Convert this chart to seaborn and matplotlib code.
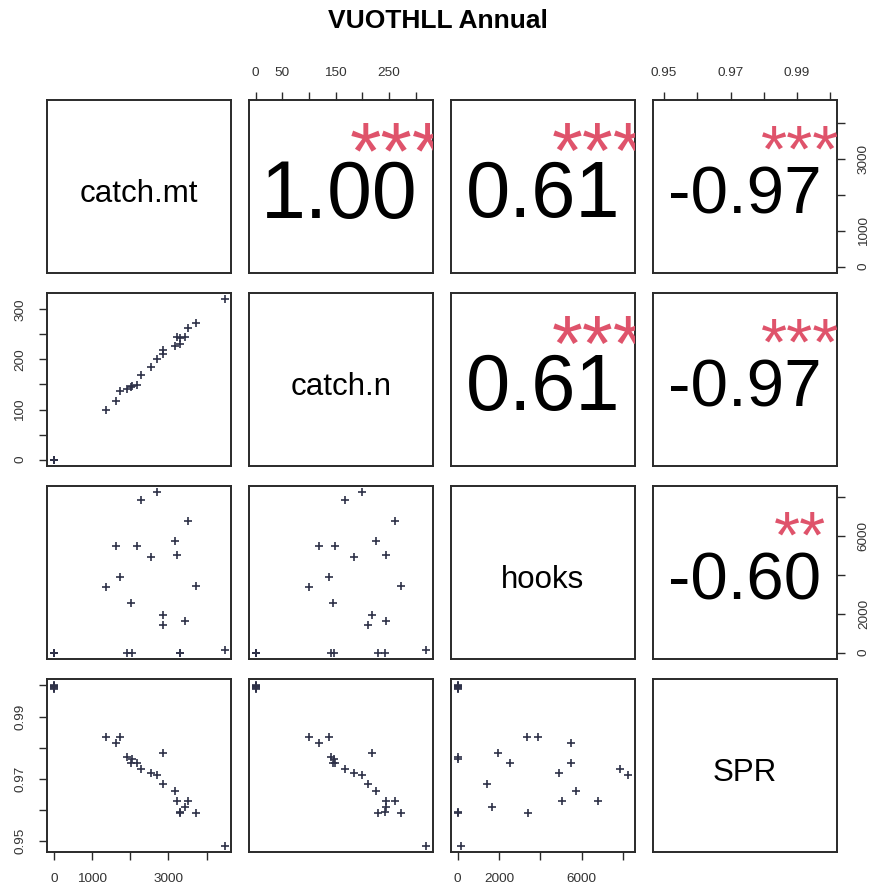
import numpy as np
import pandas as pd
import matplotlib
matplotlib.use("Agg")
import matplotlib.pyplot as plt
import matplotlib.transforms as mtransforms
from matplotlib.textpath import TextPath
from matplotlib.font_manager import FontProperties
import seaborn as sns

sns.set_style("white")
plt.rcParams["font.family"] = ["Liberation Sans", "DejaVu Sans"]

title = "VUOTHLL Annual"
variables = ["catch.mt", "catch.n", "hooks", "SPR"]

catch_mt = [2693, 2276, 3502, 3174, 1636, 2169, 2551, 3227, 1742, 1369,
            3716, 2009, 2871, 3440, 2871, 1929, 2053, 3298, 3298, 4470,
            0, 0, 0, 0, 0, 0]
catch_n = [200, 168, 262, 226, 118, 148, 185, 245, 138, 99,
           272, 145, 218, 245, 210, 142, 147, 242, 230, 320,
           0, 0, 0, 0, 0, 0]
hooks = [8250, 7860, 6790, 5730, 5490, 5490, 4910, 5035, 3900, 3368,
         3408, 2535, 1960, 1650, 1399, 0, 0, 0, 0, 155,
         0, 0, 0, 0, 0, 0]
spr = [0.9711, 0.9733, 0.9630, 0.9662, 0.9814, 0.9751, 0.9719, 0.9630, 0.9833, 0.9833,
       0.9590, 0.9751, 0.9783, 0.9611, 0.9685, 0.9770, 0.9765, 0.9595, 0.9590, 0.9486,
       1.0000, 0.9995, 0.9990, 0.9993, 0.9997, 0.9999]

cor_text = {(0, 1): "1.00", (0, 2): "0.61", (0, 3): "-0.97",
            (1, 2): "0.61", (1, 3): "-0.97", (2, 3): "-0.60"}
cor_stars = {(0, 1): "***", (0, 2): "***", (0, 3): "***",
             (1, 2): "***", (1, 3): "***", (2, 3): "**"}

axis_ticks = {
    "catch.mt": [0, 1000, 2000, 3000, 4000],
    "catch.n": [0, 50, 100, 150, 200, 250, 300],
    "hooks": [0, 2000, 4000, 6000, 8000],
    "SPR": [0.95, 0.96, 0.97, 0.98, 0.99, 1.00],
}
x_tick_labels = {
    "catch.mt": ["0", "1000", "", "3000", ""],
    "catch.n": ["0", "50", "", "150", "", "250", ""],
    "hooks": ["0", "2000", "", "6000", ""],
    "SPR": ["0.95", "", "0.97", "", "0.99", ""],
}
y_tick_labels = {
    "catch.mt": ["0", "1000", "", "3000", ""],
    "catch.n": ["0", "", "100", "", "200", "", "300"],
    "hooks": ["0", "2000", "", "6000", ""],
    "SPR": ["0.95", "", "0.97", "", "0.99", ""],
}

df = pd.DataFrame({"catch.mt": catch_mt, "catch.n": catch_n,
                   "hooks": hooks, "SPR": spr})

W, H = 875, 892
DPI = 100
fig, axes = plt.subplots(4, 4, figsize=(W / DPI, H / DPI), dpi=DPI)
fig.subplots_adjust(left=47 / W, right=837 / W, top=1 - 100 / H,
                    bottom=1 - 852 / H, wspace=0.095, hspace=0.116)

frame_col = "#2a2a2a"
tick_col = "#333333"
pt_col = "#2e3148"
fprop = FontProperties(family="Liberation Sans")


def lims(v):
    v = np.asarray(v, float)
    r = v.max() - v.min()
    return v.min() - 0.04 * r, v.max() + 0.04 * r


def ink(s, fs):
    ext = TextPath((0, 0), s, size=fs, prop=fprop).get_extents()
    return ext.x0, ext.x1, ext.y0, ext.y1


def place_ink(ax, s, fs, fx, fy_px_from_top, color, clip=False):
    x0, x1, y0, y1 = ink(s, fs)
    cx = (x0 + x1) / 2
    cy = (y0 + y1) / 2
    off = mtransforms.offset_copy(ax.transAxes, fig=fig,
                                  x=-cx, y=-cy - fy_px_from_top * 72 / DPI,
                                  units="points")
    return ax.text(fx, 1.0, s, transform=off, ha="left", va="baseline",
                   fontsize=fs, color=color, clip_on=clip)


n = len(variables)
fig.canvas.draw()
renderer = fig.canvas.get_renderer()

for i in range(n):
    for j in range(n):
        ax = axes[i, j]
        vi, vj = variables[i], variables[j]
        for s in ax.spines.values():
            s.set_color(frame_col)
            s.set_linewidth(1.4)
        ax.set_xticks([])
        ax.set_yticks([])
        axbb = ax.get_window_extent(renderer=renderer)
        if i > j:
            sns.scatterplot(x=df[vj], y=df[vi], ax=ax, marker="+",
                            color=pt_col, s=28, linewidth=1.2, legend=False)
            ax.set_xlim(*lims(df[vj]))
            ax.set_ylim(*lims(df[vi]))
            ax.set_xlabel("")
            ax.set_ylabel("")
        elif i == j:
            ax.set_xlim(0, 1)
            ax.set_ylim(0, 1)
            ax.text(0.5, 0.412, vi, transform=ax.transAxes, ha="center",
                    va="baseline", fontsize=22.5, color="black")
        else:
            ax.set_xlim(0, 1)
            ax.set_ylim(0, 1)
            txt = cor_text[(i, j)]
            x0, x1, _, _ = ink(txt, 100)
            width_pt = 0.8 * axbb.width * 72 / DPI
            fs = 100 * width_pt / (x1 - x0)
            place_ink(ax, txt, fs, 0.5, axbb.height / 2 + 3.5, "black")
            place_ink(ax, cor_stars[(i, j)], fs, 0.8, 37, "#DF536B", clip=True)

        tick_kw = dict(direction="out", length=6, width=1.0, colors=frame_col,
                       labelsize=9.7, labelcolor=tick_col, pad=9)
        if i == 0 and j % 2 == 1:
            ax.set_xlim(*lims(df[vj]))
            ax.set_xticks(axis_ticks[vj])
            ax.set_xticklabels(x_tick_labels[vj])
            ax.xaxis.tick_top()
            ax.tick_params(axis="x", top=True, bottom=False, **tick_kw)
        if i == n - 1 and j % 2 == 0:
            ax.set_xticks(axis_ticks[vj])
            ax.set_xticklabels(x_tick_labels[vj])
            ax.tick_params(axis="x", bottom=True, **tick_kw)
        if j == 0 and i % 2 == 1:
            ax.set_yticks(axis_ticks[vi])
            ax.set_yticklabels(y_tick_labels[vi], rotation=90, va="center")
            ax.tick_params(axis="y", left=True, **tick_kw)
        if j == n - 1 and i % 2 == 0:
            ax.set_ylim(*lims(df[vi]))
            ax.set_yticks(axis_ticks[vi])
            ax.set_yticklabels(y_tick_labels[vi], rotation=90, va="center")
            ax.yaxis.tick_right()
            ax.tick_params(axis="y", right=True, left=False, **tick_kw)

fig.text(438 / W, 1 - 28.3 / H, title, ha="center", va="baseline",
         fontsize=19, fontweight="bold", color="black")

fig.savefig("out.png", dpi=DPI, facecolor="white")
